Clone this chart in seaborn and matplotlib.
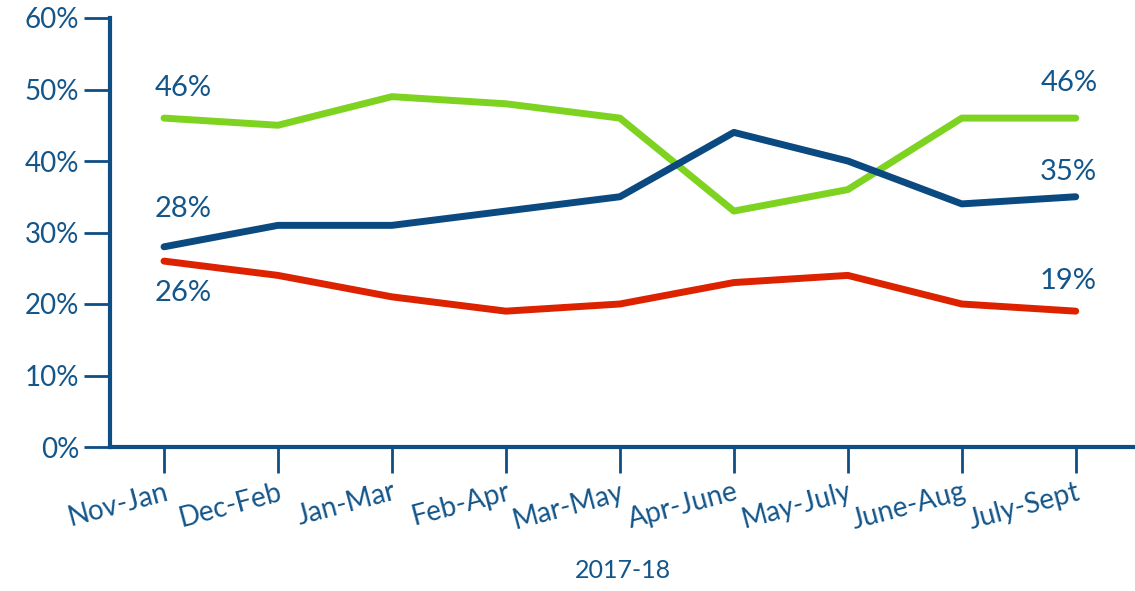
import pandas as pd
import matplotlib.pyplot as plt
import seaborn as sns

periods = ['Nov-Jan', 'Dec-Feb', 'Jan-Mar', 'Feb-Apr', 'Mar-May',
           'Apr-June', 'May-July', 'June-Aug', 'July-Sept']
green_vals = [46, 45, 49, 48, 46, 33, 36, 46, 46]
blue_vals = [28, 31, 31, 33, 35, 44, 40, 34, 35]
red_vals = [26, 24, 21, 19, 20, 23, 24, 20, 19]
series_names = ['green', 'blue', 'red']
colors = {'green': '#7ed321', 'blue': '#0b4a80', 'red': '#dd2200'}
text_col = '#14568a'

rows = []
for name, vals in zip(series_names, [green_vals, blue_vals, red_vals]):
    for i, (p, v) in enumerate(zip(periods, vals)):
        rows.append({'idx': i, 'period': p, 'value': v, 'series': name})
df = pd.DataFrame(rows)

sns.set_style('white')
plt.rcParams['font.family'] = ['Lato', 'DejaVu Sans']

fig = plt.figure(figsize=(11.35, 5.91), dpi=100)
ax = fig.add_axes([110 / 1135, 144 / 591, 1025 / 1135, 429 / 591])

sns.lineplot(data=df, x='idx', y='value', hue='series', palette=colors,
             linewidth=5, legend=False, ax=ax, solid_capstyle='round')

ax.set_ylim(0, 60)
ax.set_xlim(-0.474, 8.52)
ax.set_yticks(range(0, 61, 10))
ax.set_yticklabels([f'{v}%' for v in range(0, 61, 10)], fontsize=20, color=text_col)
ax.set_xticks(range(len(periods)))
ax.set_xticklabels(periods, rotation=15, ha='right', rotation_mode='anchor',
                   fontsize=20, color=text_col)

for s in ['top', 'right']:
    ax.spines[s].set_visible(False)
for s in ['left', 'bottom']:
    ax.spines[s].set_color('#0e4e84')
    ax.spines[s].set_linewidth(3)
ax.tick_params(axis='both', bottom=True, left=True, colors='#0e4e84',
               length=19, width=2, direction='out', labelcolor=text_col)
ax.tick_params(axis='x', pad=4)
ax.tick_params(axis='y', pad=3)

ax.set_ylabel('')
ax.set_xlabel('2017-18', fontsize=18, color=text_col, labelpad=18)

labels = [
    (0, green_vals[0], 19, 30),
    (0, blue_vals[0], 19, 38),
    (0, red_vals[0], 19, -32),
    (8, green_vals[8], -7, 35),
    (8, blue_vals[8], -7, 25),
    (8, red_vals[8], -8, 30),
]
for i, v, dx, dy in labels:
    ax.annotate(f'{v}%', (i, v), xytext=(dx, dy), textcoords='offset pixels',
                ha='center', va='center', fontsize=21, color=text_col)

fig.savefig('out.png', dpi=100)
